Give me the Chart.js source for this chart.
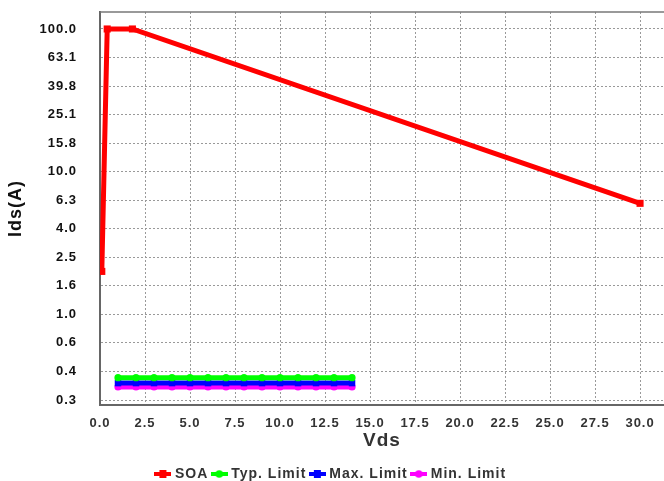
<!DOCTYPE html>
<html>
<head>
<meta charset="utf-8">
<script src="https://cdn.jsdelivr.net/npm/chart.js@4.4.1/dist/chart.umd.min.js"></script>
<style>
html, body { margin: 0; padding: 0; background: #fff; overflow: hidden; }
#wrap { width: 664px; height: 481px; }
</style>
</head>
<body>
<div id="wrap"><canvas id="graphic-soa"></canvas></div>
<script>
// SOA curve (Vds, Ids)
const soaVds = [0.1, 0.4, 1.8, 30];
const soaIds = [2.0, 100, 100, 6.0];

// limit lines
const limitVds = [1, 2, 3, 4, 5, 6, 7, 8, 9, 10, 11, 12, 13, 14];
const typLimit = [0.36, 0.36, 0.36, 0.36, 0.36, 0.36, 0.36, 0.36, 0.36, 0.36, 0.36, 0.36, 0.36, 0.36];
const maxLimit = [0.33, 0.33, 0.33, 0.33, 0.33, 0.33, 0.33, 0.33, 0.33, 0.33, 0.33, 0.33, 0.33, 0.33];
const minLimit = [0.31, 0.31, 0.31, 0.31, 0.31, 0.31, 0.31, 0.31, 0.31, 0.31, 0.31, 0.31, 0.31, 0.31];

// log axis ticks
const yTickValues = [0.251, 0.398, 0.631, 1, 1.585, 2.512, 3.981, 6.31, 10, 15.849, 25.12, 39.81, 63.1, 100];
const yTickLabels = ['0.3', '0.4', '0.6', '1.0', '1.6', '2.5', '4.0', '6.3', '10.0', '15.8', '25.1', '39.8', '63.1', '100.0'];

const FONT = '"Liberation Sans", Arial, sans-serif';

function toPoints(xs, ys) {
    return xs.map((x, i) => ({ x: x, y: ys[i] }));
}

function legendIcon(color, marker) {
    const c = document.createElement('canvas');
    c.width = 17;
    c.height = 8;
    const g = c.getContext('2d');
    g.fillStyle = color;
    g.fillRect(0, 2, 17, 4);
    if (marker === 'rect') {
        g.fillRect(5, 0, 7, 8);
    } else {
        g.beginPath();
        g.arc(8.5, 4, 3.8, 0, Math.PI * 2);
        g.fill();
    }
    return c;
}

const icons = [
    legendIcon('#ff0000', 'rect'),
    legendIcon('#00ff00', 'circle'),
    legendIcon('#0000ff', 'rect'),
    legendIcon('#ff00ff', 'circle'),
];

// wide text like the original renderer
const spacing = {
    id: 'spacing',
    beforeUpdate(chart) { chart.ctx.letterSpacing = '1px'; },
    beforeLayout(chart) { chart.ctx.letterSpacing = '1px'; },
    beforeDraw(chart) { chart.ctx.letterSpacing = '1px'; }
};

// top frame line of the plot area
const frameTop = {
    id: 'frameTop',
    afterDraw(chart) {
        const a = chart.chartArea;
        const ctx = chart.ctx;
        ctx.save();
        ctx.strokeStyle = '#777';
        ctx.lineWidth = 1.5;
        ctx.beginPath();
        ctx.moveTo(a.left, a.top);
        ctx.lineTo(a.right, a.top);
        ctx.stroke();
        ctx.restore();
    }
};

const data = {
    datasets: [{
        label: 'SOA',
        data: toPoints(soaVds, soaIds),
        borderColor: '#ff0000',
        backgroundColor: '#ff0000',
        borderWidth: 5,
        pointStyle: 'rect',
        pointRadius: 5,
        pointBorderWidth: 0,
    }, {
        label: 'Typ. Limit',
        data: toPoints(limitVds, typLimit),
        borderColor: '#00ff00',
        backgroundColor: '#00ff00',
        borderWidth: 5,
        pointStyle: 'circle',
        pointRadius: 3.6,
        pointBorderWidth: 0,
    }, {
        label: 'Max. Limit',
        data: toPoints(limitVds, maxLimit),
        borderColor: '#0000ff',
        backgroundColor: '#0000ff',
        borderWidth: 5,
        pointStyle: 'rect',
        pointRadius: 4.6,
        pointBorderWidth: 0,
    }, {
        label: 'Min. Limit',
        data: toPoints(limitVds, minLimit),
        borderColor: '#ff00ff',
        backgroundColor: '#ff00ff',
        borderWidth: 5,
        pointStyle: 'circle',
        pointRadius: 3.6,
        pointBorderWidth: 0,
    }]
};

const config = {
    type: 'line',
    data: data,
    options: {
        animation: false,
        responsive: true,
        maintainAspectRatio: false,
        layout: { autoPadding: false, padding: { top: 12, right: 0, left: 0, bottom: 0 } },
        plugins: {
            tooltip: { enabled: false },
            legend: {
                position: 'bottom',
                maxHeight: 20,
                labels: {
                    usePointStyle: true,
                    boxWidth: 10,
                    boxHeight: 10,
                    padding: 6,
                    color: '#333',
                    font: { family: FONT, size: 14, weight: 'bold' },
                    generateLabels(chart) {
                        const items = Chart.defaults.plugins.legend.labels.generateLabels(chart);
                        items.forEach((it, i) => { it.pointStyle = icons[i]; });
                        return items;
                    }
                }
            }
        },
        scales: {
            x: {
                type: 'linear',
                min: 0,
                max: 31.33,
                afterFit(scale) {
                    scale.height = 56;
                    scale.paddingLeft = 0;
                    scale.paddingRight = 0;
                },
                border: { display: true, color: '#666', width: 2, dash: [2, 2] },
                grid: {
                    color: (c) => (c.tick && c.tick.value > 30 ? 'rgba(0,0,0,0)' : '#999'),
                    lineWidth: 1,
                    drawTicks: true,
                    tickLength: 11,
                    tickColor: 'rgba(0,0,0,0)'
                },
                ticks: {
                    stepSize: 2.5,
                    includeBounds: false,
                    autoSkip: false,
                    maxRotation: 0,
                    padding: 0,
                    color: '#333',
                    font: { family: FONT, size: 13, weight: 'bold' },
                    callback: (v) => v.toFixed(1)
                },
                title: {
                    display: true,
                    text: 'Vds',
                    color: '#333',
                    padding: { bottom: 9 },
                    font: { family: FONT, size: 19, weight: 'bold' }
                }
            },
            y: {
                type: 'logarithmic',
                min: 0.2317,
                max: 131.5,
                afterFit(scale) {
                    scale.width = 100;
                    scale.paddingTop = 0;
                    scale.paddingBottom = 0;
                },
                afterBuildTicks(scale) {
                    scale.ticks = yTickValues.map(v => ({ value: v }));
                },
                border: { display: true, color: '#666', width: 2, dash: [2, 2] },
                grid: { color: '#999', lineWidth: 1, drawTicks: true, tickLength: 23, tickColor: 'rgba(0,0,0,0)' },
                ticks: {
                    autoSkip: false,
                    padding: 0,
                    color: '#111',
                    font: { family: FONT, size: 13, weight: 'bold' },
                    callback: (v, i) => yTickLabels[i]
                },
                title: {
                    display: true,
                    text: 'Ids(A)',
                    color: '#111',
                    padding: { top: 5 },
                    font: { family: FONT, size: 18, weight: 'bold' }
                }
            }
        }
    },
    plugins: [spacing, frameTop]
};

new Chart(document.getElementById('graphic-soa'), config);
</script>
</body>
</html>
